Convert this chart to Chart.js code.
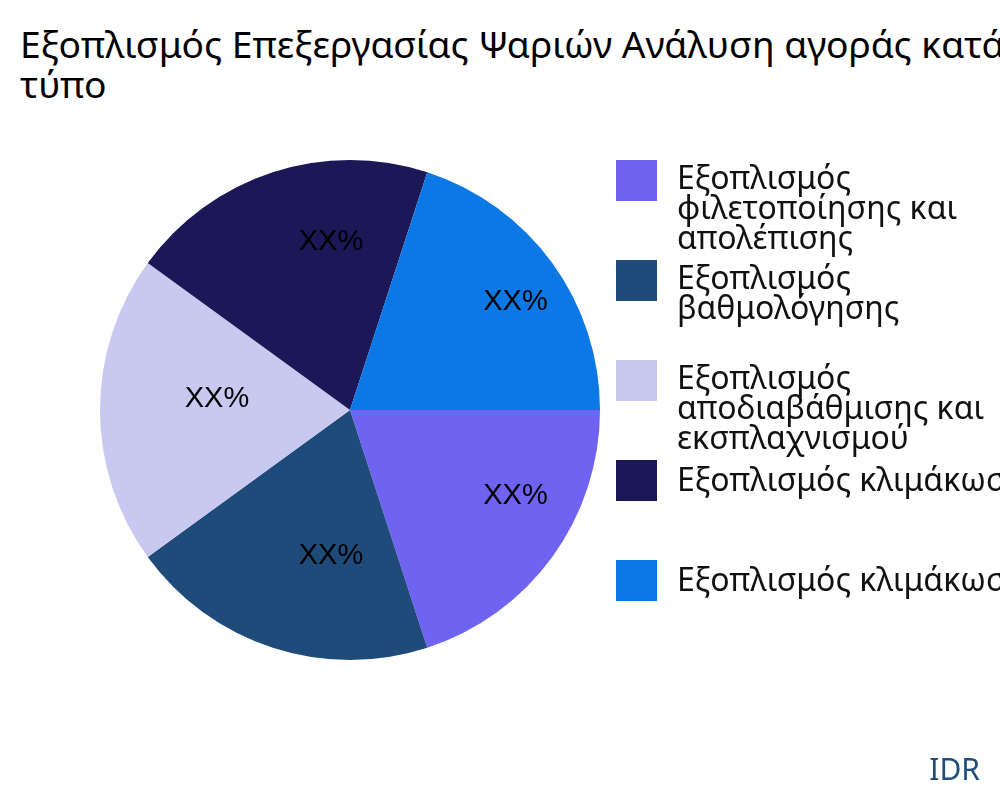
<!DOCTYPE html>
<html><head><meta charset="utf-8">
<script src="https://cdn.jsdelivr.net/npm/chart.js"></script>
<style>
body{margin:0;width:1000px;height:800px;overflow:hidden;background:#fff;font-family:"Noto Sans",sans-serif;position:relative}
#t{position:absolute;left:20px;top:24px;font-size:37.2px;line-height:40px;white-space:nowrap;color:#000}
#c{position:absolute;left:0;top:0}
.li{position:absolute;left:616px;font-size:32px;line-height:30px;white-space:nowrap;color:#111}
.li span{position:absolute;left:0;top:0;width:41px;height:41px}
.li div{margin-left:61px}
#idr{position:absolute;right:20px;top:748px;font-size:30px;color:#1f4e79}
</style></head><body>
<div id="t">Εξοπλισμός Επεξεργασίας Ψαριών Ανάλυση αγοράς κατά<br>τύπο</div>
<canvas id="c" width="1000" height="800"></canvas>
<div id="leg"></div>
<div id="idr">IDR</div>
<script>
const categories=["Εξοπλισμός\nφιλετοποίησης και\nαπολέπισης","Εξοπλισμός\nβαθμολόγησης","Εξοπλισμός\nαποδιαβάθμισης και\nεκσπλαχνισμού","Εξοπλισμός κλιμάκωσης","Εξοπλισμός κλιμάκωσης"];
const values=[20,20,20,20,20];
const labels=["XX%","XX%","XX%","XX%","XX%"];
const colors=["#6f63f2","#1f4b7a","#c9c8f0","#1c1757","#0b78e6"];
const legendTops=[160,260,360,460,560];
const leg=document.getElementById('leg');
categories.forEach((c,i)=>{const d=document.createElement('div');d.className='li';d.style.top=legendTops[i]+'px';
d.innerHTML='<span style="background:'+colors[i]+'"></span><div style="padding-top:'+(c.includes('\n')?2:4)+'px">'+c.replace(/\n/g,'<br>')+'</div>';leg.appendChild(d);});
const lbl={id:'lbl',afterDatasetsDraw(ch){const ctx=ch.ctx;ctx.save();ctx.font='29px "Liberation Sans",Arial';ctx.fillStyle='#000';ctx.textAlign='center';ctx.textBaseline='middle';
ch.getDatasetMeta(0).data.forEach((a,i)=>{const p=a.getProps(['x','y','startAngle','endAngle','outerRadius'],true);const m=(p.startAngle+p.endAngle)/2,r=p.outerRadius*0.66;
ctx.fillText(labels[i],p.x+Math.cos(m)*r+32,p.y+Math.sin(m)*r-11);});ctx.restore();}};
new Chart(document.getElementById('c'),{type:'pie',data:{labels:categories,datasets:[{data:values,backgroundColor:colors,borderWidth:0}]},
options:{responsive:false,animation:false,rotation:90,layout:{padding:{left:100,right:400,top:160,bottom:140}},
plugins:{legend:{display:false},tooltip:{enabled:false}}},plugins:[lbl]});
</script></body></html>
